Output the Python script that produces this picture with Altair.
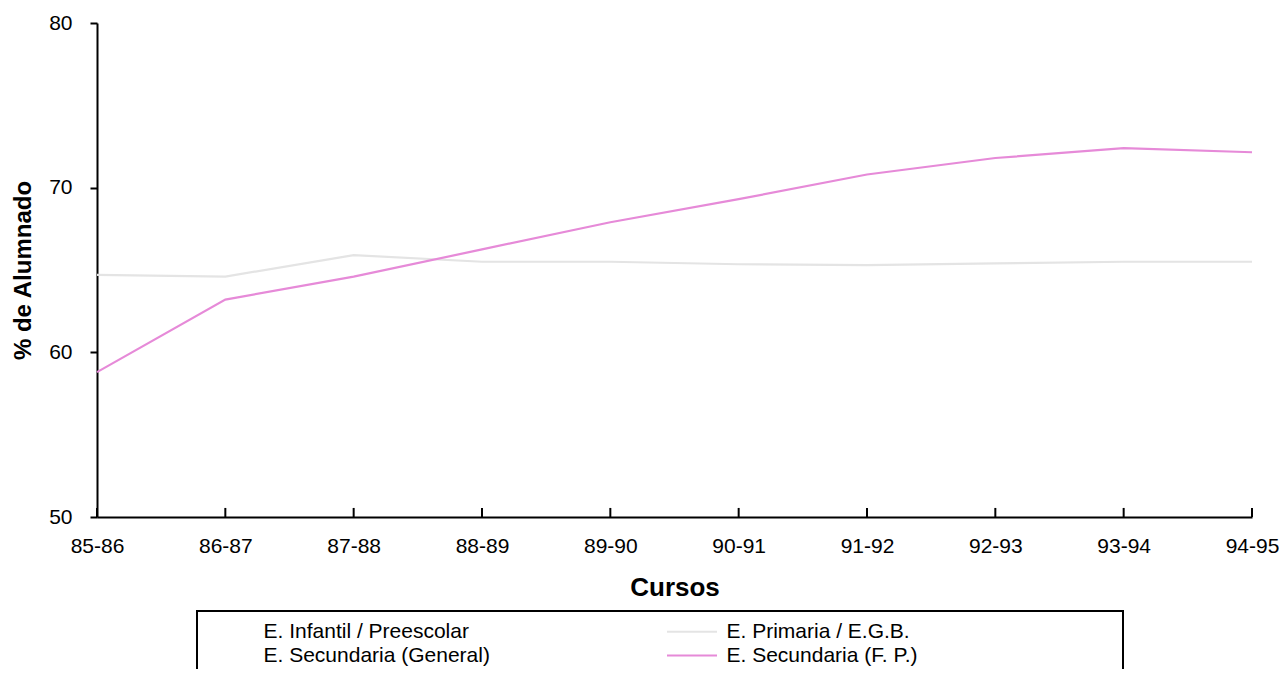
import altair as alt
import pandas as pd

cursos = ["85-86", "86-87", "87-88", "88-89", "89-90",
          "90-91", "91-92", "92-93", "93-94", "94-95"]
primaria = [64.7, 64.6, 65.9, 65.5, 65.5, 65.35, 65.3, 65.4, 65.5, 65.5]
secundaria_fp = [58.8, 63.2, 64.6, 66.25, 67.9, 69.3, 70.8, 71.8, 72.4, 72.15]

series = ["E. Infantil / Preescolar", "E. Primaria / E.G.B.",
          "E. Secundaria (General)", "E. Secundaria (F. P.)"]
colores = ["#ffffff", "#e4e4e4", "#ffffff", "#e68ad8"]

rows = []
for c, v in zip(cursos, primaria):
    rows.append({"curso": c, "serie": series[1], "valor": v})
for c, v in zip(cursos, secundaria_fp):
    rows.append({"curso": c, "serie": series[3], "valor": v})
df = pd.DataFrame(rows)
ticks_df = pd.DataFrame({"curso": cursos})

FONT = "Liberation Sans"
NB = "\u00a0" * 34 + "\u200b"
label_expr = (
    "indexof(['E. Primaria / E.G.B.', 'E. Secundaria (F. P.)'], datum.label) >= 0"
    f" ? datum.label + '{NB}' : datum.label"
)

x_enc = alt.X(
    "curso:N", sort=cursos,
    scale=alt.Scale(type="point", padding=0),
    axis=alt.Axis(title="Cursos", labelAngle=0, ticks=False, labelPadding=18,
                  titlePadding=18, labelFontSize=21, titleFontSize=26,
                  titleFontWeight="bold", domainColor="black", domainWidth=2,
                  labelColor="black", titleColor="black", grid=False),
)
y_enc = alt.Y(
    "valor:Q",
    scale=alt.Scale(domain=[50, 80], nice=False, zero=False),
    axis=alt.Axis(title="% de Alumnado", values=[50, 60, 70, 80], tickSize=7,
                  tickWidth=2, tickColor="black", labelPadding=18,
                  titlePadding=13, labelFontSize=21, titleFontSize=24,
                  titleFontWeight="bold", domainColor="black", domainWidth=2,
                  labelColor="black", titleColor="black", grid=False),
)

lines = alt.Chart(df).mark_line(strokeWidth=2.2).encode(
    x=x_enc,
    y=y_enc,
    color=alt.Color(
        "serie:N",
        scale=alt.Scale(domain=series, range=colores),
        legend=alt.Legend(
            title=None, orient="none", legendX=100, legendY=588, columns=2,
            direction="horizontal",
            strokeColor="black", padding=7, columnPadding=173, rowPadding=0,
            symbolType="M-2,0H2", symbolSize=625, symbolStrokeWidth=2,
            symbolOffset=11.5, labelOffset=21, labelFontSize=21,
            labelFont=FONT, labelColor="black", labelLimit=1000,
            labelExpr=label_expr,
        ),
    ),
)

ticks = alt.Chart(ticks_df).mark_rule(color="black", strokeWidth=2).encode(
    x=alt.X("curso:N", sort=cursos),
    y=alt.datum(50),
    y2=alt.datum(50.55),
)

chart = alt.layer(lines, ticks).properties(
    width=1155,
    height=494,
    autosize=alt.AutoSizeParams(type="none"),
    padding={"left": 89, "top": 15, "right": 27, "bottom": 152},
).configure(
    font=FONT,
).configure_view(
    stroke=None,
).configure_legend(
    strokeWidth=2,
)

chart.save("out.html", embed_options={"renderer": "svg", "actions": False})
